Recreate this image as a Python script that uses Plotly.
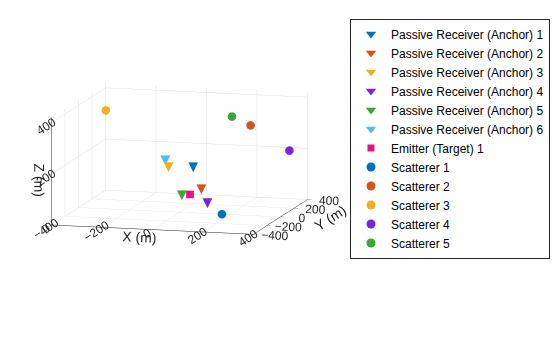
import plotly.graph_objects as go

# Receiver (anchor) positions (m)
anchor_names = [f"Passive Receiver (Anchor) {i}" for i in range(1, 7)]
anchor_x = [27, 113, -84, 164, 9, -110]
anchor_y = [100, -100, 150, -200, 0, 200]
anchor_z = [160, 112, 147, 77, 67, 164]

# Emitter (target) position (m)
emitter_names = ["Emitter (Target) 1"]
emitter_x = [28]
emitter_y = [50]
emitter_z = [63]

# Scatterer positions (m)
scat_names = [f"Scatterer {i}" for i in range(1, 6)]
scat_x = [248, 201, -394, 395, 114]
scat_y = [-300, 300, 380, 150, 350]
scat_z = [55, 298, 316, 234, 320]

colors = ["#0072BD", "#D95319", "#EDB120", "#7E22D8", "#3AA637", "#4DBEEE"]
emitter_color = "#E0148F"

x_ticks = [-400, -200, 0, 200, 400]
y_ticks = [-400, -200, 0, 200, 400]
z_ticks = [0, 200, 400]

fig = go.Figure()
# 3D marks (triangles drawn as text glyphs, as scatter3d has no triangle symbol)
for i, name in enumerate(anchor_names):
    fig.add_trace(go.Scatter3d(
        x=[anchor_x[i]], y=[anchor_y[i]], z=[anchor_z[i]], mode="text", name=name,
        text=["▼"], textposition="middle center",
        textfont=dict(size=13, color=colors[i], family="DejaVu Sans"),
        showlegend=False, hoverinfo="name"))
for i, name in enumerate(emitter_names):
    fig.add_trace(go.Scatter3d(
        x=[emitter_x[i]], y=[emitter_y[i]], z=[emitter_z[i]], mode="markers", name=name,
        marker=dict(symbol="square", size=4, color=emitter_color, line=dict(width=0)),
        showlegend=False))
for i, name in enumerate(scat_names):
    fig.add_trace(go.Scatter3d(
        x=[scat_x[i]], y=[scat_y[i]], z=[scat_z[i]], mode="markers", name=name,
        marker=dict(symbol="circle", size=5, color=colors[i], line=dict(width=0)),
        showlegend=False))

# Legend entries (proxies with the matching 2D marker symbols)
for i, name in enumerate(anchor_names):
    fig.add_trace(go.Scatter(x=[None], y=[None], mode="markers", name=name,
                             marker=dict(symbol="triangle-down", size=9, color=colors[i])))
for i, name in enumerate(emitter_names):
    fig.add_trace(go.Scatter(x=[None], y=[None], mode="markers", name=name,
                             marker=dict(symbol="square", size=7, color=emitter_color)))
for i, name in enumerate(scat_names):
    fig.add_trace(go.Scatter(x=[None], y=[None], mode="markers", name=name,
                             marker=dict(symbol="circle", size=9, color=colors[i])))

axis_common = dict(
    showbackground=False, gridcolor="#dedede", gridwidth=1,
    showline=True, linecolor="#262626", linewidth=1, mirror=False,
    zeroline=False, ticks="outside", tickcolor="#262626", ticklen=4,
    tickfont=dict(size=12, color="#262626"), showspikes=False,
)

fig.update_layout(
    width=560, height=337,
    margin=dict(l=0, r=0, t=0, b=0),
    paper_bgcolor="white", plot_bgcolor="white",
    font=dict(family="Arial, Liberation Sans, sans-serif", color="#262626"),
    xaxis=dict(visible=False), yaxis=dict(visible=False),
    scene=dict(
        domain=dict(x=[0.011, 0.631], y=[0.08, 0.98]),
        xaxis=dict(range=[-400, 400], tickvals=x_ticks, title=dict(text="X (m)", font=dict(size=14)), **axis_common),
        yaxis=dict(range=[-400, 400], tickvals=y_ticks, title=dict(text="Y (m)", font=dict(size=14)), **axis_common),
        zaxis=dict(range=[0, 420], tickvals=z_ticks, title=dict(text="Z (m)", font=dict(size=14)), **axis_common),
        aspectmode="manual",
        aspectratio=dict(x=1.38, y=1.38, z=0.72),
        camera=dict(eye=dict(x=0.34, y=-1.27, z=0.23), up=dict(x=0, y=0, z=1),
                    center=dict(x=0, y=0, z=0),
                    projection=dict(type="orthographic")),
    ),
    legend=dict(
        x=0.625, y=0.945, xanchor="left", yanchor="top",
        bgcolor="white", bordercolor="#262626", borderwidth=1,
        font=dict(size=12, color="#000000"),
        itemsizing="trace", tracegroupgap=0,
    ),
)

fig.write_html("out.html")
